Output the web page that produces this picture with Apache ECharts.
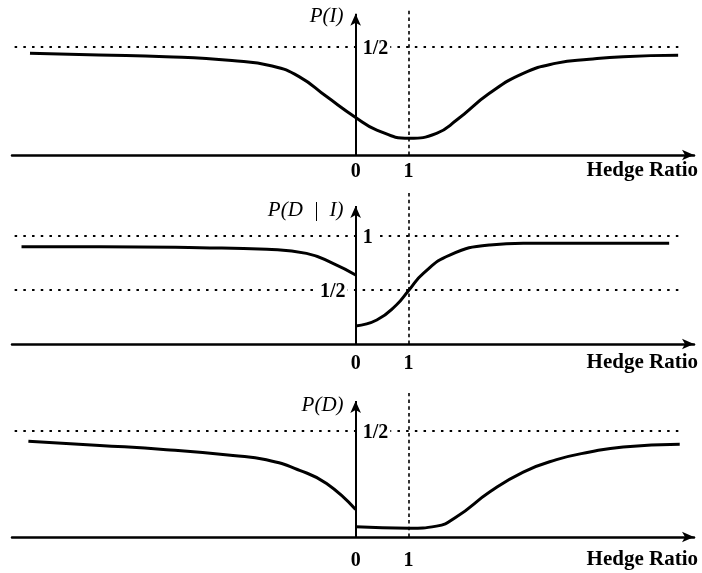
<!DOCTYPE html>
<html>
<head>
<meta charset="utf-8">
<script src="https://cdn.jsdelivr.net/npm/echarts@6/dist/echarts.min.js"></script>
<style>
html, body { margin: 0; padding: 0; background: #fff; }
#chart { width: 702px; height: 573px; }
</style>
</head>
<body>
<div id="chart"></div>
<script>
// P(I) against hedge ratio
const pIx = [-6.16, -4.86, -3.59, -2.34, -1.58, -1.07, -0.55, 0, 0.40, 1.01, 1.53, 1.91, 2.53, 3.17, 3.80, 4.42, 5.06, 6.10];
const pIy = [0.469, 0.461, 0.453, 0.435, 0.410, 0.361, 0.269, 0.173, 0.115, 0.077, 0.100, 0.161, 0.284, 0.376, 0.423, 0.441, 0.453, 0.459];

// P(D | I), jumps at hedge ratio 0
const pDIleftX = [-6.32, -4.84, -2.95, -1.68, -0.93, -0.43, 0];
const pDIleftY = [0.901, 0.901, 0.892, 0.877, 0.839, 0.747, 0.639];
const pDIrightX = [0, 0.40, 0.77, 1.01, 1.28, 1.78, 2.54, 3.17, 4.42, 5.93];
const pDIrightY = [0.167, 0.222, 0.361, 0.5, 0.654, 0.824, 0.917, 0.932, 0.932, 0.932];

// P(D), jumps at hedge ratio 0
const pDleftX = [-6.19, -4.84, -3.58, -2.32, -1.69, -1.06, -0.55, 0];
const pDleftY = [0.450, 0.430, 0.410, 0.383, 0.363, 0.313, 0.251, 0.129];
const pDrightX = [0, 1.01, 1.53, 1.91, 2.54, 3.17, 3.80, 4.43, 5.06, 6.13];
const pDrightY = [0.048, 0.041, 0.051, 0.095, 0.212, 0.305, 0.363, 0.399, 0.423, 0.435];

const xTickValues = [0, 1];
const xTickLabels = ['0', '1'];
const xTitle = 'Hedge Ratio';
const panelNames = ['P(I)', 'P(D  |  I)', 'P(D)'];
// reference levels drawn dotted, with their labels
const refLevels = [[0.5], [1, 0.5], [0.5]];
const refLabels = [['1/2'], ['1', '1/2'], ['1/2']];

const serif = '"Liberation Serif", "DejaVu Serif", serif';
const grids = [
  { left: 12, right: 8, top: 8, height: 147 },
  { left: 12, right: 8, top: 190, height: 154 },
  { left: 12, right: 8, top: 393, height: 144 }
];
const yMax = [0.677, 1.426, 0.676];
const arrowTop = [0.65, 1.278, 0.638];
const tickMargin = [7, 10, 14];
const nameOffset = [3, 5, 4];
// which side of the y axis each level label sits on
const refSide = [['right'], ['right', 'left'], ['right']];

const pairs = (xs, ys) => xs.map((x, i) => [x, ys[i]]);

const xAxes = grids.map((g, i) => ({
  type: 'value',
  gridIndex: i,
  min: -6.5,
  max: 6.4,
  interval: 0.5,
  axisLine: {
    onZero: true,
    symbol: ['none', 'arrow'],
    symbolSize: [8, 12],
    lineStyle: { color: '#000', width: 2.5 }
  },
  axisTick: { show: false },
  splitLine: { show: false },
  axisLabel: {
    margin: tickMargin[i],
    color: '#000',
    fontFamily: serif,
    fontWeight: 'bold',
    fontSize: 20,
    formatter: v => {
      const k = xTickValues.indexOf(Math.round(v * 100) / 100);
      return k >= 0 ? xTickLabels[k] : '';
    }
  },
  name: xTitle,
  nameLocation: 'end',
  nameGap: 0,
  nameTextStyle: {
    color: '#000',
    fontFamily: serif,
    fontWeight: 'bold',
    fontSize: 21,
    align: 'right',
    verticalAlign: 'top',
    padding: [tickMargin[i] - 2, -4, 0, 0]
  }
}));

const yAxes = grids.map((g, i) => ({
  type: 'value',
  gridIndex: i,
  min: 0,
  max: yMax[i],
  axisLine: { show: false },
  axisTick: { show: false },
  axisLabel: { show: false },
  splitLine: { show: false }
}));

function markers(i) {
  const lines = refLevels[i].map(v => [
    { coord: [-6.45, v] },
    { coord: [6.22, v] }
  ]);
  lines.push([
    { coord: [1, 0], lineStyle: { type: [3.5, 3.2], width: 1.6, color: '#000' } },
    { coord: [1, yMax[i]] }
  ]);
  lines.push([
    { coord: [0, 0], lineStyle: { type: 'solid', width: 2, color: '#000' } },
    { coord: [0, arrowTop[i]], symbol: 'arrow', symbolSize: [8, 12] }
  ]);
  const points = refLevels[i].map((v, k) => ({
    coord: [0, v],
    label: {
      formatter: refLabels[i][k],
      position: refSide[i][k],
      distance: refSide[i][k] === 'left' ? 8 : 5,
      offset: [0, 2]
    }
  }));
  points.push({
    coord: [0, arrowTop[i]],
    label: {
      formatter: panelNames[i],
      position: 'left',
      distance: 10,
      offset: [0, nameOffset[i]],
      fontStyle: 'italic',
      fontWeight: 'normal',
      fontSize: 21,
      backgroundColor: 'transparent'
    }
  });
  return {
    markLine: {
      silent: true,
      animation: false,
      symbol: 'none',
      label: { show: false },
      lineStyle: { type: [2.5, 6.2], width: 2, color: '#000' },
      data: lines
    },
    markPoint: {
      silent: true,
      animation: false,
      z: 10,
      symbol: 'circle',
      symbolSize: 0.1,
      itemStyle: { color: 'rgba(0,0,0,0)' },
      label: {
        show: true,
        color: '#000',
        fontFamily: serif,
        fontWeight: 'bold',
        fontSize: 20,
        backgroundColor: '#fff',
        padding: [0, 2]
      },
      data: points
    }
  };
}

function curve(i, data, withMarkers) {
  return Object.assign({
    type: 'line',
    xAxisIndex: i,
    yAxisIndex: i,
    data: data,
    smooth: 0.5,
    showSymbol: false,
    animation: false,
    lineStyle: { color: '#000', width: 3 }
  }, withMarkers ? markers(i) : {});
}

const series = [
  curve(0, pairs(pIx, pIy), true),
  curve(1, pairs(pDIleftX, pDIleftY), true),
  curve(1, pairs(pDIrightX, pDIrightY), false),
  curve(2, pairs(pDleftX, pDleftY), true),
  curve(2, pairs(pDrightX, pDrightY), false)
];

const chart = echarts.init(document.getElementById('chart'));
chart.setOption({
  animation: false,
  textStyle: { fontFamily: serif },
  grid: grids,
  xAxis: xAxes,
  yAxis: yAxes,
  series: series
});
</script>
</body>
</html>
